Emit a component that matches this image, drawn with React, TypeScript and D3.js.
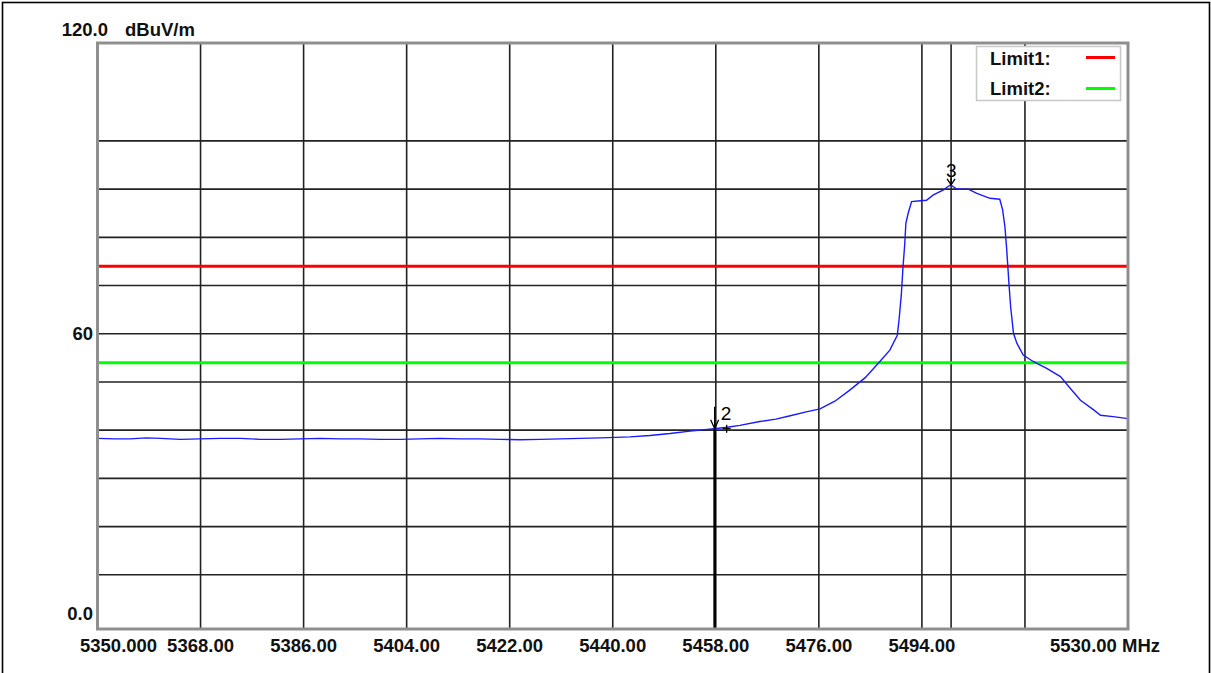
import React from "react";
import * as d3 from "d3";

// Trace (frequency in MHz, level in dBuV/m)
const traceFreqs = [
  5350.0, 5353.0, 5355.7, 5358.5, 5361.0, 5364.5, 5367.9, 5371.5, 5374.9, 5378.4,
  5381.9, 5385.4, 5388.9, 5392.4, 5395.9, 5399.4, 5402.9, 5406.3, 5409.8, 5413.3,
  5416.8, 5420.3, 5423.8, 5427.3, 5430.8, 5434.3, 5437.8, 5440.5, 5443.0, 5446.5,
  5450.0, 5453.5, 5457.7, 5460.0, 5462.2, 5465.7, 5468.5, 5471.0, 5473.8, 5476.2,
  5478.8, 5481.4, 5484.1, 5486.7, 5488.4, 5489.7, 5490.0, 5490.4, 5490.7, 5491.0,
  5491.2, 5491.6, 5492.2, 5493.7, 5494.8, 5496.0, 5497.7, 5499.0, 5500.1, 5502.1,
  5503.6, 5505.9, 5507.6, 5508.1, 5508.5, 5508.8, 5509.2, 5509.5, 5510.0, 5510.6,
  5511.7, 5513.5, 5515.8, 5518.2, 5519.9, 5521.7, 5524.0, 5525.2, 5527.4, 5530.0,
];
const traceLevels = [
  38.3, 38.2, 38.2, 38.4, 38.3, 38.1, 38.2, 38.3, 38.3, 38.1,
  38.1, 38.2, 38.3, 38.2, 38.2, 38.1, 38.1, 38.2, 38.3, 38.2,
  38.2, 38.1, 38.0, 38.1, 38.2, 38.3, 38.4, 38.5, 38.6, 38.9,
  39.3, 39.8, 40.3, 40.6, 41.0, 41.8, 42.3, 43.0, 43.8, 44.4,
  46.0, 48.3, 50.9, 54.3, 56.6, 59.7, 62.8, 68.0, 73.9, 78.5,
  82.9, 85.0, 87.4, 87.6, 87.7, 88.8, 89.8, 90.9, 90.0, 90.0,
  89.1, 88.1, 87.9, 85.7, 82.2, 77.7, 70.5, 65.6, 60.1, 58.0,
  55.6, 54.2, 52.8, 51.1, 48.7, 46.2, 44.2, 43.1, 42.8, 42.4,
];

const yGridValues = [10, 20, 30, 40, 50, 60, 70, 80, 90, 100];
const yLabelValues = [120, 60, 0];
const yLabelTexts = ["120.0", "60", "0.0"];
const yUnit = "dBuV/m";

const xGridFreqs = [5368, 5386, 5404, 5422, 5440, 5458, 5476, 5494, 5512];
const xLabelFreqs = [5368, 5386, 5404, 5422, 5440, 5458, 5476, 5494];
const xLabelTexts = ["5368.00", "5386.00", "5404.00", "5422.00", "5440.00", "5458.00", "5476.00", "5494.00"];
const xStartLabel = "5350.000";
const xEndLabel = "5530.00 MHz";

const limitNames = ["Limit1:", "Limit2:"];
const limitValues = [74, 54];
const limitColors = ["#ff0000", "#00ff00"];

const markerIds = ["2", "3"];
const markerFreqs = [5457.8, 5499.1];
const markerLevels = [40.3, 90.9];

const W = 1211;
const H = 673;
const FONT = "'Liberation Sans', Arial, sans-serif";

export default function App() {
  const x = d3.scaleLinear().domain([5350, 5530]).range([97.5, 1128]);
  const y = d3.scaleLinear().domain([0, 120]).range([623, 44.5]);
  const top = 43;
  const bottom = 629;
  const left = 97.5;
  const right = 1128;

  const line = d3
    .line<number>()
    .x((_, i) => x(traceFreqs[i]))
    .y((d) => y(d));

  const txt = { fontFamily: FONT, fontWeight: 700, fontSize: 18.5, fill: "#111" } as const;

  return (
    <svg
      width={W}
      height={H}
      style={{ position: "absolute", left: 0, top: 0, background: "#fff" }}
    >
      <rect x={0} y={0} width={W} height={H} fill="#fff" />
      {/* outer border */}
      <rect x={2.5} y={2.5} width={1207} height={720} fill="none" stroke="#000" strokeWidth={1.6} />

      {/* horizontal grid */}
      {yGridValues.map((v) => (
        <line key={"hy" + v} x1={left} x2={right} y1={y(v)} y2={y(v)} stroke="#222" strokeWidth={1.6} />
      ))}
      {/* vertical grid */}
      {xGridFreqs.map((f) => (
        <line key={"vx" + f} x1={x(f)} x2={x(f)} y1={top} y2={bottom} stroke="#222" strokeWidth={1.6} />
      ))}

      {/* marker 3 line full height */}
      <line x1={x(markerFreqs[1])} x2={x(markerFreqs[1])} y1={top} y2={bottom} stroke="#222" strokeWidth={1.6} />

      {/* limit lines */}
      {limitValues.map((v, i) => (
        <line key={"lim" + i} x1={left} x2={right} y1={y(v)} y2={y(v)} stroke={limitColors[i]} strokeWidth={3} />
      ))}

      {/* marker 2 thick line */}
      <line
        x1={x(markerFreqs[0])}
        x2={x(markerFreqs[0])}
        y1={y(markerLevels[0])}
        y2={bottom}
        stroke="#000"
        strokeWidth={2.6}
      />

      {/* trace */}
      <path d={line(traceLevels) || ""} fill="none" stroke="#1a1aff" strokeWidth={1.4} />

      {/* markers */}
      {markerIds.map((id, i) => {
        const mx = x(markerFreqs[i]);
        const my = y(markerLevels[i]);
        const stem = i === 0 ? 22 : 7;
        const vh = i === 0 ? 9 : 6;
        return (
          <g key={"m" + id}>
            <line x1={mx} x2={mx} y1={my - stem} y2={my} stroke="#000" strokeWidth={1.3} />
            <path d={`M${mx - 4},${my - vh} L${mx},${my} L${mx + 4},${my - vh}`} fill="none" stroke="#000" strokeWidth={1.3} />
            {i === 0 && (
              <path d={`M${mx + 8},${my} L${mx + 16},${my} M${mx + 12},${my - 4} L${mx + 12},${my + 4}`} stroke="#000" strokeWidth={1.3} />
            )}
            <text
              x={i === 0 ? mx + 6 : mx - 5}
              y={i === 0 ? my - 9 : my - 8}
              style={{ fontFamily: FONT, fontSize: 19, fill: "#000" }}
            >
              {id}
            </text>
          </g>
        );
      })}

      {/* plot frame */}
      <rect x={left} y={top} width={right - left} height={bottom - top} fill="none" stroke="#8f8f8f" strokeWidth={3} />

      {/* legend */}
      <rect x={976.5} y={46.5} width={144} height={54} fill="#fff" stroke="#c8c8c8" strokeWidth={1.5} />
      {limitNames.map((n, i) => (
        <g key={"lg" + i}>
          <text x={990} y={58 + i * 30} dominantBaseline="central" style={txt}>
            {n}
          </text>
          <line x1={1086} x2={1115} y1={57.5 + i * 31} y2={57.5 + i * 31} stroke={limitColors[i]} strokeWidth={3} />
        </g>
      ))}

      {/* y labels */}
      {yLabelValues.map((v, i) => {
        const yy = v === 120 ? 29 : v === 0 ? 613 : y(v);
        return (
          <text key={"yl" + v} x={v === 120 ? 108 : 93} y={yy} textAnchor="end" dominantBaseline="central" style={txt}>
            {yLabelTexts[i]}
          </text>
        );
      })}
      <text x={125} y={29} dominantBaseline="central" style={txt}>
        {yUnit}
      </text>

      {/* x labels */}
      <text x={80} y={645} dominantBaseline="central" style={txt}>
        {xStartLabel}
      </text>
      {xLabelFreqs.map((f, i) => (
        <text key={"xl" + f} x={x(f)} y={645} textAnchor="middle" dominantBaseline="central" style={txt}>
          {xLabelTexts[i]}
        </text>
      ))}
      <text x={1050} y={645} dominantBaseline="central" style={txt}>
        {xEndLabel}
      </text>
    </svg>
  );
}
